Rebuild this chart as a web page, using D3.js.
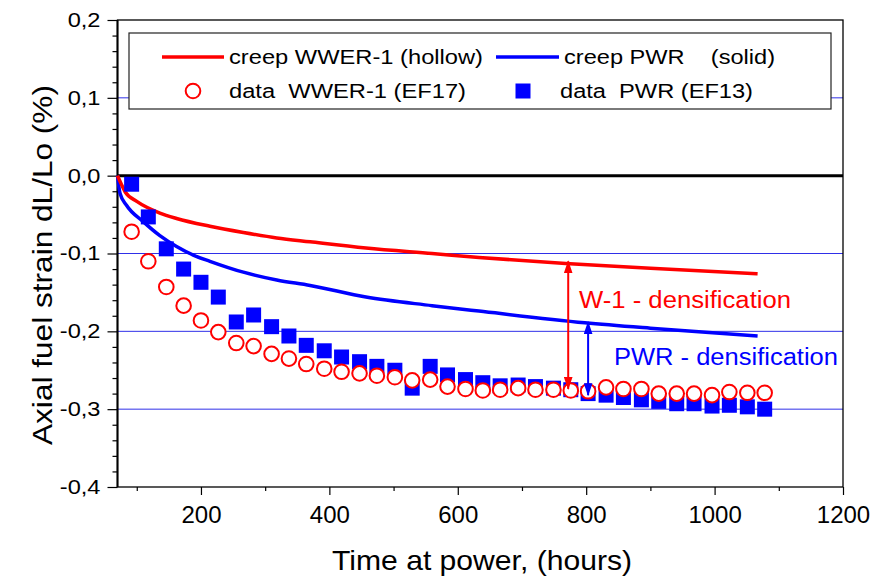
<!DOCTYPE html>
<html>
<head>
<meta charset="utf-8">
<script src="https://cdn.jsdelivr.net/npm/d3@7"></script>
<style>
body { margin: 0; background: #fff; }
text { font-family: "Liberation Sans", Arial, sans-serif; }
</style>
</head>
<body>
<svg id="chart" width="877" height="579"></svg>
<script>
// data
var hours = [92, 118, 146, 173, 200, 227, 255, 282, 310, 337, 364, 392, 419, 447, 474, 502, 529, 557, 584,
             612, 639, 666, 694, 721, 749, 776, 803, 831, 858, 886, 913, 941, 968, 996, 1023, 1051, 1078]

var wwerData = [-0.072, -0.110, -0.143, -0.167, -0.186, -0.201, -0.215, -0.219, -0.229, -0.235, -0.242, -0.248,
                -0.252, -0.254, -0.257, -0.259, -0.263, -0.262, -0.271, -0.274, -0.276, -0.275, -0.273, -0.275,
                -0.275, -0.276, -0.277, -0.272, -0.274, -0.274, -0.280, -0.280, -0.280, -0.282, -0.278, -0.279, -0.279]

var pwrData = [-0.011, -0.053, -0.094, -0.120, -0.137, -0.156, -0.188, -0.179, -0.194, -0.206, -0.218, -0.225,
               -0.233, -0.239, -0.245, -0.250, -0.273, -0.245, -0.256, -0.262, -0.266, -0.270, -0.269, -0.271,
               -0.273, -0.275, -0.280, -0.282, -0.285, -0.288, -0.290, -0.293, -0.293, -0.296, -0.295, -0.297, -0.300]

var wwerCreepT = [70, 76, 82, 100, 136, 162, 214, 266, 318, 370, 457, 560, 633, 768, 900, 1067]
var wwerCreep  = [0, -0.011, -0.021, -0.033, -0.048, -0.055, -0.065, -0.073, -0.080, -0.085, -0.093, -0.100, -0.105, -0.113, -0.119, -0.126]

var pwrCreepT = [70, 74, 84, 110, 136, 162, 188, 214, 266, 318, 370, 457, 560, 633, 798, 900, 1067]
var pwrCreep  = [0, -0.023, -0.038, -0.059, -0.077, -0.091, -0.102, -0.110, -0.124, -0.134, -0.141, -0.156, -0.167, -0.174, -0.189, -0.196, -0.206]

// densification arrows: [hour, top, bottom]
var arrowW1  = [772, -0.110, -0.274]
var arrowPWR = [803, -0.188, -0.282]

var xTicks = [200, 400, 600, 800, 1000, 1200]
var xMinor = [100, 300, 500, 700, 900, 1100]
var yTicks = [0.2, 0.1, 0.0, -0.1, -0.2, -0.3, -0.4]
var yTickLabels = ["0,2", "0,1", "0,0", "-0,1", "-0,2", "-0,3", "-0,4"]
var yMinor = [0.18, 0.16, 0.14, 0.12, 0.08, 0.06, 0.04, 0.02, -0.02, -0.04, -0.06, -0.08,
              -0.12, -0.14, -0.16, -0.18, -0.22, -0.24, -0.26, -0.28, -0.32, -0.34, -0.36, -0.38]
var gridValues = [0.1, -0.1, -0.2, -0.3]

var legendLabels = ["creep WWER-1 (hollow)", "creep PWR    (solid)", "data  WWER-1 (EF17)", "data  PWR (EF13)"]

var red = "#ff0000", blue = "#0000ff"

var plotL = 117.5, plotR = 843, plotT = 20, plotB = 487

var x = d3.scaleLinear().domain([70, 1200]).range([plotL, plotR])
var y = d3.scaleLinear().domain([-0.4, 0.2]).range([plotB, plotT])

var svg = d3.select("#chart")

var defs = svg.append("defs")
function arrowMarker(id, color) {
	defs.append("marker")
		.attr("id", id)
		.attr("viewBox", "0 0 12 8")
		.attr("refX", 11).attr("refY", 4)
		.attr("markerWidth", 13).attr("markerHeight", 9)
		.attr("markerUnits", "userSpaceOnUse")
		.attr("orient", "auto-start-reverse")
		.append("path")
		.attr("d", "M0,0 L12,4 L0,8 Z")
		.attr("fill", color)
}
arrowMarker("headRed", red)
arrowMarker("headBlue", blue)

// gridlines
svg.append("g")
	.selectAll("line")
	.data(gridValues)
	.enter().append("line")
	.attr("x1", plotL).attr("x2", plotR)
	.attr("y1", function (d) { return y(d) }).attr("y2", function (d) { return y(d) })
	.attr("stroke", "#2f2fe8").attr("stroke-width", 1)

// zero line
svg.append("line")
	.attr("x1", plotL).attr("x2", plotR)
	.attr("y1", y(0)).attr("y2", y(0))
	.attr("stroke", "#000").attr("stroke-width", 3)

// y axis
svg.append("g")
	.attr("transform", "translate(" + plotL + ",0)")
	.call(d3.axisLeft(y).tickValues(yMinor).tickSize(5).tickSizeOuter(0).tickFormat(""))
	.call(function (g) { g.select(".domain").remove() })

var yAxis = svg.append("g")
	.attr("transform", "translate(" + plotL + ",0)")
	.call(d3.axisLeft(y).tickValues(yTicks).tickSize(10).tickSizeOuter(0).tickPadding(7)
		.tickFormat(function (d, i) { return yTickLabels[i] }))
yAxis.select(".domain").remove()
yAxis.selectAll("text")
	.attr("font-size", 20).attr("font-family", "Liberation Sans, Arial, sans-serif")
	.attr("fill", "#000")
	.each(function () {
		var w = this.getComputedTextLength()
		d3.select(this).attr("textLength", w * 1.18).attr("lengthAdjust", "spacingAndGlyphs")
	})

// x axis
svg.append("g")
	.attr("transform", "translate(0," + plotB + ")")
	.call(d3.axisBottom(x).tickValues(xMinor).tickSize(4).tickSizeOuter(0).tickFormat(""))
	.call(function (g) { g.select(".domain").remove() })

var xAxis = svg.append("g")
	.attr("transform", "translate(0," + plotB + ")")
	.call(d3.axisBottom(x).tickValues(xTicks).tickSize(8).tickSizeOuter(0).tickFormat(d3.format("d")))
xAxis.select(".domain").remove()
xAxis.selectAll("text")
	.attr("font-size", 24).attr("font-family", "Liberation Sans, Arial, sans-serif")
	.attr("fill", "#000")
	.attr("y", 36).attr("dy", 0)

svg.selectAll(".tick line").attr("stroke", "#000").attr("stroke-width", 1.2)

// frame
svg.append("rect")
	.attr("x", plotL).attr("y", plotT)
	.attr("width", plotR - plotL).attr("height", plotB - plotT)
	.attr("fill", "none").attr("stroke", "#000").attr("stroke-width", 1.3)
svg.append("line")
	.attr("x1", plotL).attr("x2", plotL).attr("y1", plotT).attr("y2", plotB)
	.attr("stroke", "#000").attr("stroke-width", 2)

// creep curves
var line = d3.line()
	.x(function (d) { return x(d[0]) })
	.y(function (d) { return y(d[1]) })
	.curve(d3.curveMonotoneX)

svg.append("path")
	.datum(pwrCreepT.map(function (t, i) { return [t, pwrCreep[i]] }))
	.attr("d", line).attr("fill", "none").attr("stroke", blue).attr("stroke-width", 3.5)
svg.append("path")
	.datum(wwerCreepT.map(function (t, i) { return [t, wwerCreep[i]] }))
	.attr("d", line).attr("fill", "none").attr("stroke", red).attr("stroke-width", 3.5)

// data points
var sq = 15
svg.append("g").selectAll("rect")
	.data(hours)
	.enter().append("rect")
	.attr("x", function (d) { return x(d) - sq / 2 })
	.attr("y", function (d, i) { return y(pwrData[i]) - sq / 2 })
	.attr("width", sq).attr("height", sq)
	.attr("fill", blue)

svg.append("g").selectAll("circle")
	.data(hours)
	.enter().append("circle")
	.attr("cx", function (d) { return x(d) })
	.attr("cy", function (d, i) { return y(wwerData[i]) })
	.attr("r", 7.3)
	.attr("fill", "#fff").attr("stroke", red).attr("stroke-width", 2)

// densification arrows
function arrow(a, color, id) {
	svg.append("line")
		.attr("x1", x(a[0])).attr("x2", x(a[0]))
		.attr("y1", y(a[1])).attr("y2", y(a[2]))
		.attr("stroke", color).attr("stroke-width", 2)
		.attr("marker-start", "url(#" + id + ")")
		.attr("marker-end", "url(#" + id + ")")
}
arrow(arrowW1, red, "headRed")
arrow(arrowPWR, blue, "headBlue")

svg.append("text")
	.attr("x", 579).attr("y", 308)
	.attr("font-size", 23).attr("fill", red)
	.attr("textLength", 212).attr("lengthAdjust", "spacingAndGlyphs")
	.text("W-1 - densification")
svg.append("text")
	.attr("x", 614).attr("y", 365)
	.attr("font-size", 23).attr("fill", blue)
	.attr("textLength", 224).attr("lengthAdjust", "spacingAndGlyphs")
	.text("PWR - densification")

// legend
var legend = svg.append("g")
legend.append("rect")
	.attr("x", 129).attr("y", 33).attr("width", 702).attr("height", 76)
	.attr("fill", "#fff").attr("stroke", "#222").attr("stroke-width", 1.2)

legend.append("line").attr("x1", 162).attr("x2", 224).attr("y1", 57).attr("y2", 57)
	.attr("stroke", red).attr("stroke-width", 3.5)
legend.append("line").attr("x1", 496).attr("x2", 559).attr("y1", 57).attr("y2", 57)
	.attr("stroke", blue).attr("stroke-width", 3.5)
legend.append("circle").attr("cx", 193).attr("cy", 91).attr("r", 7.3)
	.attr("fill", "#fff").attr("stroke", red).attr("stroke-width", 2)
legend.append("rect").attr("x", 523 - sq / 2).attr("y", 91 - sq / 2).attr("width", sq).attr("height", sq)
	.attr("fill", blue)

var legendPos = [[229, 64, 254], [564, 64, 211], [229, 98, 237], [560, 98, 193]]
legend.selectAll("text.lg")
	.data(legendLabels)
	.enter().append("text")
	.attr("class", "lg")
	.attr("x", function (d, i) { return legendPos[i][0] })
	.attr("y", function (d, i) { return legendPos[i][1] })
	.attr("textLength", function (d, i) { return legendPos[i][2] })
	.attr("lengthAdjust", "spacingAndGlyphs")
	.attr("font-size", 20)
	.style("white-space", "pre")
	.text(function (d) { return d })

// axis titles
svg.append("text")
	.attr("x", 482).attr("y", 570)
	.attr("text-anchor", "middle").attr("font-size", 28)
	.attr("textLength", 300).attr("lengthAdjust", "spacingAndGlyphs")
	.text("Time at power, (hours)")

svg.append("text")
	.attr("transform", "translate(52,265) rotate(-90)")
	.attr("text-anchor", "middle").attr("font-size", 28)
	.attr("textLength", 360).attr("lengthAdjust", "spacingAndGlyphs")
	.text("Axial fuel strain dL/Lo (%)")
</script>
</body>
</html>
